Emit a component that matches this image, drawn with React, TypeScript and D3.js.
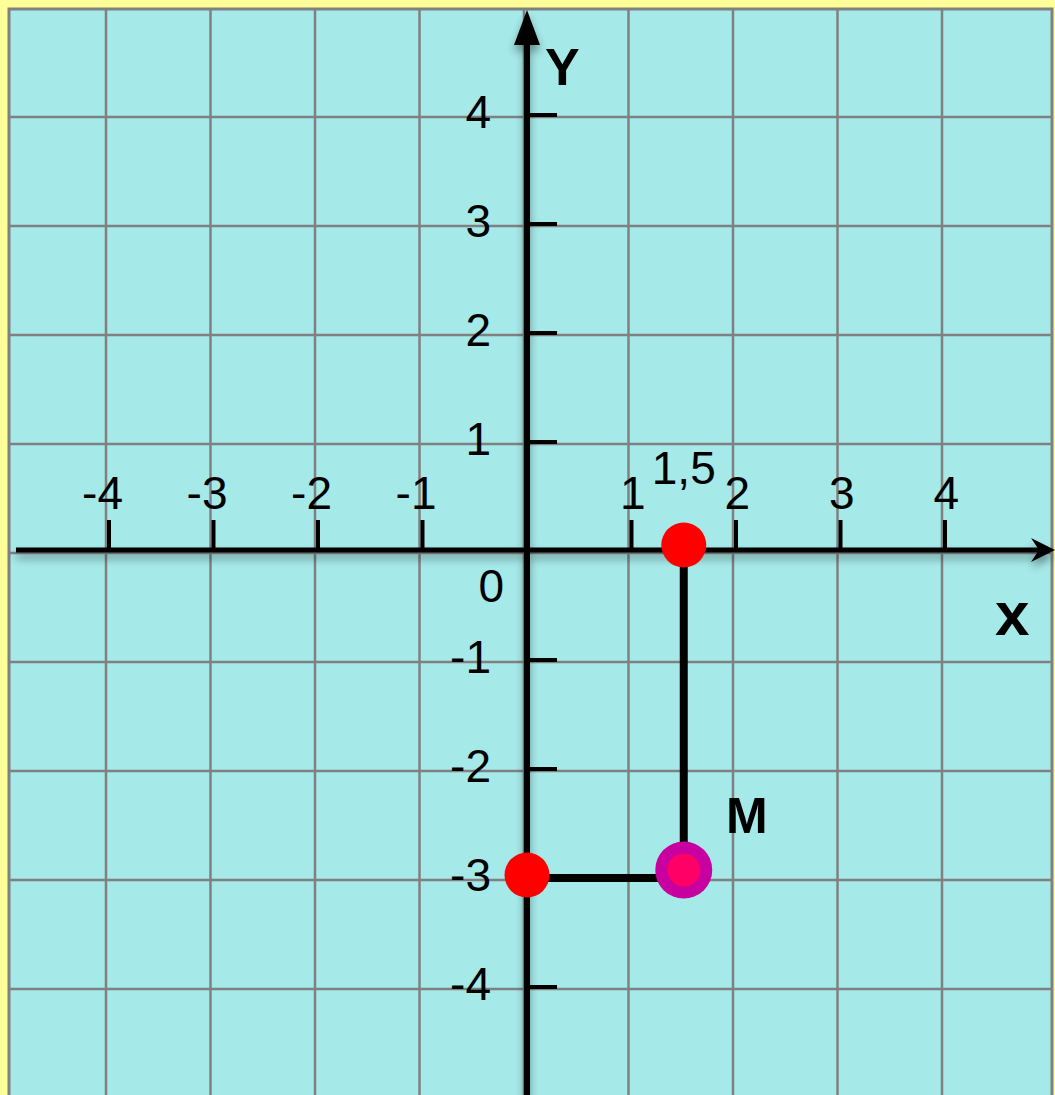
import React from "react";
import * as d3 from "d3";

const W = 1055;
const H = 1095;

const gridXValues = [-4, -3, -2, -1, 0, 1, 2, 3, 4];
const gridYValues = [4, 3, 2, 1, 0, -1, -2, -3, -4];
const xTickValues = [-4, -3, -2, -1, 1, 2, 3, 4];
const xTickLabels = ["-4", "-3", "-2", "-1", "1", "2", "3", "4"];
const yTickValues = [4, 3, 2, 1, -1, -2, -3, -4];
const yTickLabels = ["4", "3", "2", "1", "-1", "-2", "-3", "-4"];
const pathPoints: [number, number][] = [
  [1.5, 0],
  [1.5, -3],
  [0, -3],
];
const redPoints: [number, number][] = [
  [1.5, 0],
  [0, -3],
];
const pointM: [number, number] = [1.5, -3];
const markX = 1.5;
const markLabel = "1,5";

const FONT = "'Liberation Sans', Arial, sans-serif";

export default function App() {
  const x = d3.scaleLinear().domain([0, 1]).range([527, 631.5]);
  const y = d3.scaleLinear().domain([0, 1]).range([551, 442]);
  const ax = x(0);
  const ay = y(0);
  const line = d3
    .line<[number, number]>()
    .x((d) => x(d[0]))
    .y((d) => y(d[1]));

  return (
    <svg
      width={W}
      height={H}
      style={{ position: "absolute", left: 0, top: 0, display: "block" }}
    >
      <defs>
        <filter id="sh" x="-10%" y="-10%" width="120%" height="120%">
          <feGaussianBlur in="SourceAlpha" stdDeviation="4" />
          <feOffset dx="0" dy="6" result="b" />
          <feComponentTransfer>
            <feFuncA type="linear" slope="0.4" />
          </feComponentTransfer>
          <feMerge>
            <feMergeNode />
            <feMergeNode in="SourceGraphic" />
          </feMerge>
        </filter>
      </defs>
      <rect x={0} y={0} width={W} height={H} fill="#FFFF99" />
      <rect
        x={9}
        y={9}
        width={1043}
        height={1120}
        fill="#A5E9E8"
        stroke="#808080"
        strokeWidth={3}
      />
      {/* grid */}
      <g stroke="#808080" strokeWidth={2.5}>
        {gridXValues.map((v) => (
          <line key={"gx" + v} x1={x(v) - 3} x2={x(v) - 3} y1={9} y2={H} />
        ))}
        {gridYValues.map((v) => (
          <line key={"gy" + v} x1={9} x2={1052} y1={y(v) + 2} y2={y(v) + 2} />
        ))}
      </g>
      {/* axes */}
      <g filter="url(#sh)">
        <line x1={16} x2={1040} y1={ay - 1} y2={ay - 1} stroke="#000" strokeWidth={5} />
        <path
          d={`M1055,${ay - 1} L1031,${ay - 13} L1039,${ay - 1} L1031,${ay + 11} Z`}
          fill="#000"
        />
        <line x1={ax} x2={ax} y1={40} y2={H + 10} stroke="#000" strokeWidth={6} />
        <path d={`M${ax},10 L${ax - 13},45 L${ax + 13},45 Z`} fill="#000" />
      </g>
      {/* ticks */}
      <g stroke="#000" strokeWidth={4}>
        {xTickValues.map((v) => (
          <line key={"tx" + v} x1={x(v)} x2={x(v)} y1={ay - 31} y2={ay - 1} />
        ))}
        {yTickValues.map((v) => (
          <line key={"ty" + v} x1={ax} x2={ax + 30} y1={y(v)} y2={y(v)} />
        ))}
      </g>
      <g fontFamily={FONT} fontSize={46} fill="#000">
        {xTickValues.map((v, i) => (
          <text key={"lx" + v} x={x(v) + 14} y={ay - 42} textAnchor="end">
            {xTickLabels[i]}
          </text>
        ))}
        {yTickValues.map((v, i) => (
          <text key={"ly" + v} x={ax - 36} y={y(v) + 13} textAnchor="end">
            {yTickLabels[i]}
          </text>
        ))}
        <text x={ax - 23} y={ay + 51} textAnchor="end">
          0
        </text>
        <text x={x(markX)} y={ay - 67} textAnchor="middle">
          {markLabel}
        </text>
      </g>
      <text x={545} y={85} fontFamily={FONT} fontWeight="bold" fontSize={52}>
        Y
      </text>
      <text x={995} y={635} fontFamily={FONT} fontWeight="bold" fontSize={62}>
        x
      </text>
      <text x={726} y={833} fontFamily={FONT} fontWeight="bold" fontSize={50}>
        M
      </text>
      {/* projection lines */}
      <path
        d={line(pathPoints) || ""}
        fill="none"
        stroke="#000"
        strokeWidth={8}
        strokeLinejoin="round"
      />
      {redPoints.map((p, i) => (
        <circle
          key={"rp" + i}
          cx={x(p[0])}
          cy={y(p[1]) - (p[1] === 0 ? 6 : 3)}
          r={22.5}
          fill="#FF0000"
        />
      ))}
      <circle cx={x(pointM[0])} cy={y(pointM[1]) - 8} r={28.5} fill="#C800A0" />
      <circle cx={x(pointM[0])} cy={y(pointM[1]) - 8} r={16.5} fill="#FF0066" />
    </svg>
  );
}
